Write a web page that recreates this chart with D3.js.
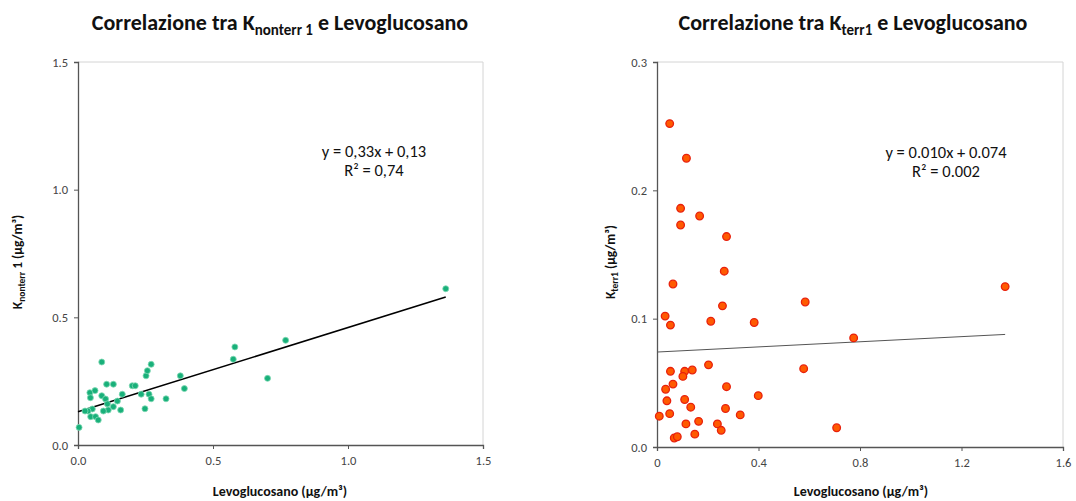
<!DOCTYPE html>
<html><head><meta charset="utf-8">
<script src="https://cdn.jsdelivr.net/npm/d3@7"></script>
<style>
body{margin:0;background:#fff;}
svg{display:block;font-family:Carlito,Lato,"Open Sans",sans-serif;}
</style></head>
<body>
<svg id="c" width="1076" height="501"></svg>
<script>
// ---- data ----
const leftX = [0.004,0.088,0.044,0.063,0.046,0.088,0.106,0.131,0.102,0.109,0.146,0.164,0.131,0.112,0.094,0.158,0.053,0.037,0.026,0.047,0.065,0.075,0.201,0.212,0.234,0.248,0.263,0.271,0.252,0.257,0.271,0.326,0.379,0.394,0.575,0.581,0.702,0.769,1.362];
const leftY = [0.069,0.325,0.205,0.213,0.185,0.193,0.238,0.238,0.180,0.161,0.172,0.199,0.150,0.137,0.133,0.137,0.141,0.133,0.133,0.111,0.111,0.098,0.232,0.232,0.199,0.142,0.199,0.181,0.271,0.291,0.316,0.181,0.271,0.221,0.336,0.384,0.261,0.410,0.612];
const rightX = [0.050,0.116,0.093,0.168,0.093,0.274,0.265,0.063,0.258,0.584,0.032,0.053,0.212,0.383,0.203,0.578,0.053,0.109,0.139,0.102,0.063,0.034,0.274,0.039,0.109,0.133,0.399,0.270,0.009,0.050,0.328,0.164,0.114,0.238,0.253,0.149,0.068,0.080,0.708,0.775,1.372];
const rightY = [0.252,0.225,0.186,0.180,0.173,0.164,0.137,0.127,0.110,0.113,0.102,0.095,0.098,0.097,0.064,0.061,0.059,0.059,0.060,0.055,0.049,0.045,0.047,0.036,0.037,0.031,0.040,0.030,0.024,0.026,0.025,0.020,0.018,0.018,0.013,0.010,0.007,0.008,0.015,0.085,0.125];
const leftXTicks = [0, 0.5, 1.0, 1.5];
const leftYTicks = [0, 0.5, 1.0, 1.5];
const rightXTicks = [0, 0.4, 0.8, 1.2, 1.6];
const rightYTicks = [0, 0.1, 0.2, 0.3];
const leftFit = {slope: 0.33, intercept: 0.13};
const rightFit = {slope: 0.010, intercept: 0.074};
const leftEq = ["y = 0,33x + 0,13", "R² = 0,74"];
const rightEq = ["y = 0.010x + 0.074", "R² = 0.002"];

const svg = d3.select("#c");

function panel(o){
  const g = svg.append("g");
  const x = d3.scaleLinear().domain(o.xDomain).range([o.x0, o.x1]);
  const y = d3.scaleLinear().domain(o.yDomain).range([o.y1, o.y0]);
  g.append("line").attr("x1",o.x0).attr("x2",o.x1).attr("y1",o.y0).attr("y2",o.y0).attr("stroke","#d4d4d4");
  g.append("line").attr("x1",o.x1).attr("x2",o.x1).attr("y1",o.y0).attr("y2",o.y1).attr("stroke","#d4d4d4");
  const xa = g.append("g").attr("transform",`translate(0,${o.y1})`)
    .call(d3.axisBottom(x).tickValues(o.xTicks).tickFormat(o.xFmt).tickSize(4).tickPadding(7));
  const ya = g.append("g").attr("transform",`translate(${o.x0},0)`)
    .call(d3.axisLeft(y).tickValues(o.yTicks).tickFormat(d3.format(".1f")).tickSize(4).tickPadding(6));
  [xa,ya].forEach(a=>{
    a.select(".domain").attr("stroke","#555").attr("stroke-width",1.3);
    a.selectAll(".tick line").attr("stroke","#555");
    a.selectAll(".tick text").attr("fill","#444").style("font-size","12.5px").style("font-family","Carlito,Lato,sans-serif");
  });
  const xmax = d3.max(o.xs);
  g.append("line")
    .attr("x1",x(0)).attr("y1",y(o.fit.intercept))
    .attr("x2",x(xmax)).attr("y2",y(o.fit.intercept+o.fit.slope*xmax))
    .attr("stroke",o.lineColor).attr("stroke-width",o.lineW);
  g.selectAll("circle.p").data(o.xs.map((v,i)=>[v,o.ys[i]])).join("circle")
    .attr("class","p").attr("cx",d=>x(d[0])).attr("cy",d=>y(d[1]))
    .attr("r",o.r).attr("fill",o.fill).attr("stroke",o.stroke).attr("stroke-width",o.sw);
  const eq = g.append("text").attr("text-anchor","middle").attr("fill","#111").style("font-size","16.5px");
  eq.append("tspan").attr("x",o.eqX).attr("y",o.eqY).text(o.eq[0]);
  eq.append("tspan").attr("x",o.eqX).attr("y",o.eqY+19).text(o.eq[1]);
  const t = g.append("text").attr("x",o.titleX).attr("y",30).attr("text-anchor","middle")
    .style("font-size","22px").style("font-weight","bold").attr("fill","#111");
  t.append("tspan").text("Correlazione tra K");
  t.append("tspan").attr("dy",5).style("font-size","15px").text(o.titleSub);
  t.append("tspan").attr("dy",-5).text(" e Levoglucosano");
  g.append("text").attr("x",o.xLabX).attr("y",496).attr("text-anchor","middle")
    .style("font-size","14px").style("font-weight","bold").attr("fill","#111")
    .text("Levoglucosano (µg/m³)");
  const yl = g.append("text").attr("transform",`translate(${o.yLabX},${o.yLabY}) rotate(-90)`)
    .attr("text-anchor","middle").style("font-size","13.5px").style("font-weight","bold").attr("fill","#111");
  yl.append("tspan").text("K");
  yl.append("tspan").attr("dy",3).style("font-size","9.5px").text(o.ySub);
  yl.append("tspan").attr("dy",-3).text(o.yRest);
}

panel({x0:78,x1:483,y0:62,y1:445,xDomain:[0,1.5],yDomain:[0,1.5],
  xTicks:leftXTicks,yTicks:leftYTicks,xFmt:d3.format(".1f"),
  xs:leftX,ys:leftY,fit:leftFit,lineColor:"#000",lineW:1.6,
  r:3,fill:"#19b07a",stroke:"#7fd8b4",sw:0.8,
  eq:leftEq,eqX:374,eqY:157,titleX:280,titleSub:"nonterr 1",
  xLabX:280,yLabX:22,yLabY:262,ySub:"nonterr",yRest:" 1 (µg/m³)"});

panel({x0:657,x1:1063,y0:62,y1:447,xDomain:[0,1.6],yDomain:[0,0.3],
  xTicks:rightXTicks,yTicks:rightYTicks,xFmt:d=>d===0?"0":d3.format(".1f")(d),
  xs:rightX,ys:rightY,fit:rightFit,lineColor:"#555",lineW:1,
  r:3.8,fill:"#ff5a00",stroke:"#e8200c",sw:1.3,
  eq:rightEq,eqX:946,eqY:158,titleX:853,titleSub:"terr1",
  xLabX:861,yLabX:615,yLabY:262,ySub:"terr1",yRest:" (µg/m³)"});
</script>
</body></html>
